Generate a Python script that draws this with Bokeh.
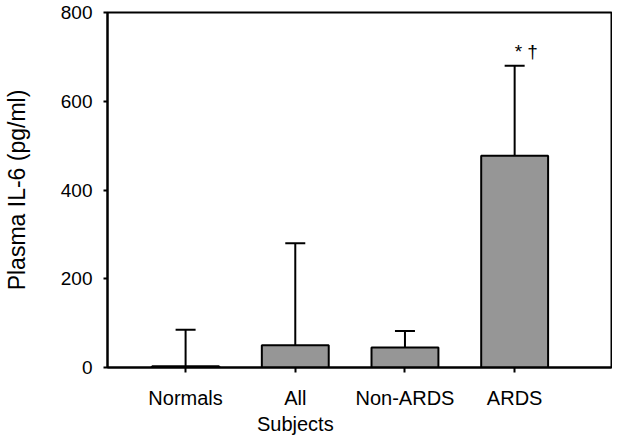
from bokeh.plotting import figure
from bokeh.models import ColumnDataSource, Whisker, TeeHead, FixedTicker, Range1d
from bokeh.core.properties import value
from bokeh.embed import file_html
from bokeh.resources import INLINE

categories = ["Normals", "All\nSubjects", "Non-ARDS", "ARDS"]
positions = [1, 2, 3, 4]
means = [3, 50, 45, 477]
upper_err = [85, 280, 82, 680]
annotation = ["", "", "", "* \u2020"]
y_ticks = [0, 200, 400, 600, 800]

FONT = "Liberation Sans"

p = figure(width=612, height=437, output_backend="svg", toolbar_location=None,
           x_range=Range1d(0.288, 4.883), y_range=Range1d(0, 800),
           min_border_left=101, min_border_right=1, min_border_top=12, min_border_bottom=69)

src = ColumnDataSource(dict(x=positions, top=means, upper=upper_err, ann=annotation))

p.vbar(x="x", top="top", bottom=0, width=0.61, source=src,
       fill_color="#969696", line_color="black", line_width=2)

w = Whisker(base="x", upper="upper", lower="top", dimension="height", source=src,
            upper_head=TeeHead(size=20, line_width=2, line_color="black"),
            lower_head=None, line_width=2, line_color="black", level="overlay")
p.add_layout(w)

p.text(x="x", y="upper", text="ann", source=src, text_font=value(FONT),
       text_font_size="19px", text_align="left", text_baseline="alphabetic",
       x_offset=0, y_offset=-14, text_color="black")

p.xgrid.visible = False
p.ygrid.visible = False
p.outline_line_color = "black"
p.outline_line_width = 2
p.outline_line_alpha = 1
p.background_fill_color = "white"
p.border_fill_color = "white"

p.xaxis.ticker = FixedTicker(ticks=positions)
p.xaxis.major_label_overrides = {pos: lab for pos, lab in zip(positions, categories)}
p.yaxis.ticker = FixedTicker(ticks=y_ticks)
p.yaxis.axis_label = "Plasma IL-6 (pg/ml)"

for ax in (p.xaxis[0], p.yaxis[0]):
    ax.axis_line_color = "black"
    ax.axis_line_width = 2
    ax.major_tick_line_color = "black"
    ax.major_tick_line_width = 2
    ax.minor_tick_line_color = None
    ax.major_tick_in = 0
    ax.major_label_text_font = FONT
    ax.major_label_text_font_size = "19px"
    ax.major_label_text_color = "black"

p.xaxis.major_tick_out = 5
p.xaxis.major_label_standoff = 14
p.xaxis.major_label_text_font_size = "20px"
p.yaxis.major_tick_out = 4
p.yaxis.major_label_standoff = 11
p.yaxis.axis_label_text_font = FONT
p.yaxis.axis_label_text_font_size = "23px"
p.yaxis.axis_label_text_font_style = "normal"
p.yaxis.axis_label_text_color = "black"
p.yaxis.axis_label_standoff = 28

open("out.html", "w").write(file_html(p, INLINE))
